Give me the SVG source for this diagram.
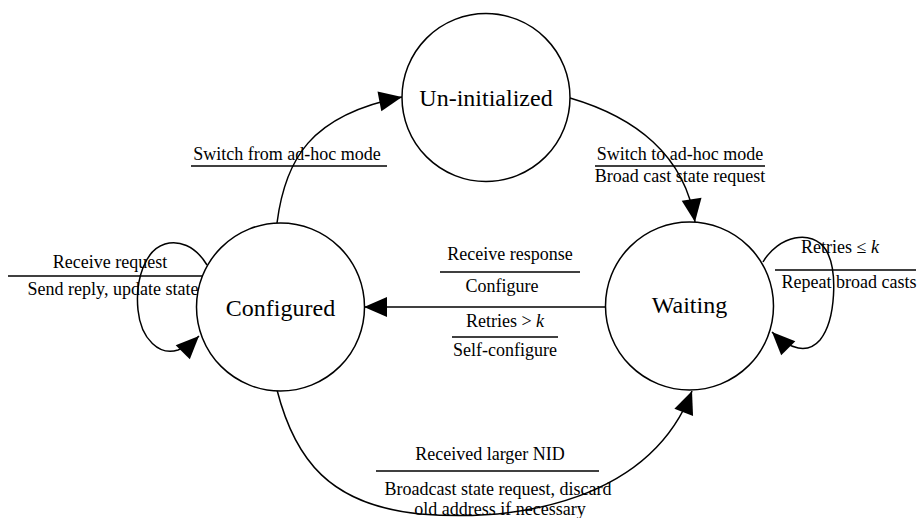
<svg xmlns="http://www.w3.org/2000/svg" width="919" height="518" viewBox="0 0 919 518">
<style>
.node{fill:#fff;stroke:#000;stroke-width:1.5}
text{font-family:'Liberation Serif','Times New Roman',Times,'DejaVu Serif',serif;fill:#000;text-anchor:middle}
.nl{font-size:24px}
.el{font-size:18px}
.edge{fill:none;stroke:#000;stroke-width:1.5;marker-end:url(#ah)}
.bar{stroke:#000;stroke-width:1.4}
</style>
<defs>
<marker id="ah" markerUnits="userSpaceOnUse" markerWidth="24" markerHeight="20" refX="23" refY="10" orient="auto" overflow="visible">
<path d="M0,0 L23,10 L0,20 z" fill="#000"/>
</marker>
</defs>
<rect width="919" height="518" fill="#fff"/>
<g id="connectors">
<path class="edge" d="M277,223 C285,160 310,115 402,97"/>
<path class="edge" d="M570,98 C635,117 685,155 695,222"/>
<path class="edge" d="M606,307 L364,307"/>
<path class="edge" d="M277,390 C295,460 330,505 420,514 C520,522 650,500 692,391"/>
<path class="edge" d="M207,265 C195,245 178,240 165,244 C145,250 135,280 138,310 C141,340 160,356 178,350 C186,347 193,342 199,336"/>
<path class="edge" d="M763,262 C778,236 812,228 826,250 C838,270 836,320 820,340 C808,354 790,350 772,332"/>
</g>
<g id="labels">
<text class="el" x="287" y="160" font-family="Liberation Serif">Switch from ad-hoc mode</text>
<line class="bar" x1="191" y1="166" x2="387" y2="166"/>
<text class="el" x="680" y="160" font-family="Liberation Serif">Switch to ad-hoc mode</text>
<line class="bar" x1="595" y1="166" x2="765" y2="166"/>
<text class="el" x="680" y="182" font-family="Liberation Serif">Broad cast state request</text>
<text class="el" x="510" y="260" font-family="Liberation Serif">Receive response</text>
<line class="bar" x1="440" y1="272" x2="580" y2="272"/>
<text class="el" x="502" y="292" font-family="Liberation Serif">Configure</text>
<text class="el" x="505" y="327" font-family="Liberation Serif">Retries &gt; <tspan font-style="italic">k</tspan></text>
<line class="bar" x1="452" y1="337" x2="558" y2="337"/>
<text class="el" x="505" y="356" font-family="Liberation Serif">Self-configure</text>
<text class="el" x="110" y="268" font-family="Liberation Serif">Receive request</text>
<line class="bar" x1="8" y1="276" x2="205" y2="276"/>
<text class="el" x="113" y="295" font-family="Liberation Serif">Send reply, update state</text>
<text class="el" x="840" y="253" font-family="Liberation Serif">Retries ≤ <tspan font-style="italic">k</tspan></text>
<line class="bar" x1="775" y1="270" x2="916" y2="270"/>
<text class="el" x="849" y="288" font-family="Liberation Serif">Repeat broad casts</text>
<text class="el" x="490" y="460" font-family="Liberation Serif">Received larger NID</text>
<line class="bar" x1="376" y1="471" x2="599" y2="471"/>
<text class="el" x="498" y="495" font-family="Liberation Serif">Broadcast state request, discard</text>
<text class="el" x="500" y="515" font-family="Liberation Serif">old address if necessary</text>
</g>
<g id="node-uninitialized">
<circle class="node" cx="486" cy="97.5" r="84"/>
<text class="nl" x="486" y="106" font-family="Liberation Serif">Un-initialized</text>
</g>
<g id="node-configured">
<circle class="node" cx="280.5" cy="307" r="84"/>
<text class="nl" x="280.5" y="316" font-family="Liberation Serif">Configured</text>
</g>
<g id="node-waiting">
<circle class="node" cx="689.5" cy="306" r="84"/>
<text class="nl" x="689.5" y="313" font-family="Liberation Serif">Waiting</text>
</g>
</svg>
